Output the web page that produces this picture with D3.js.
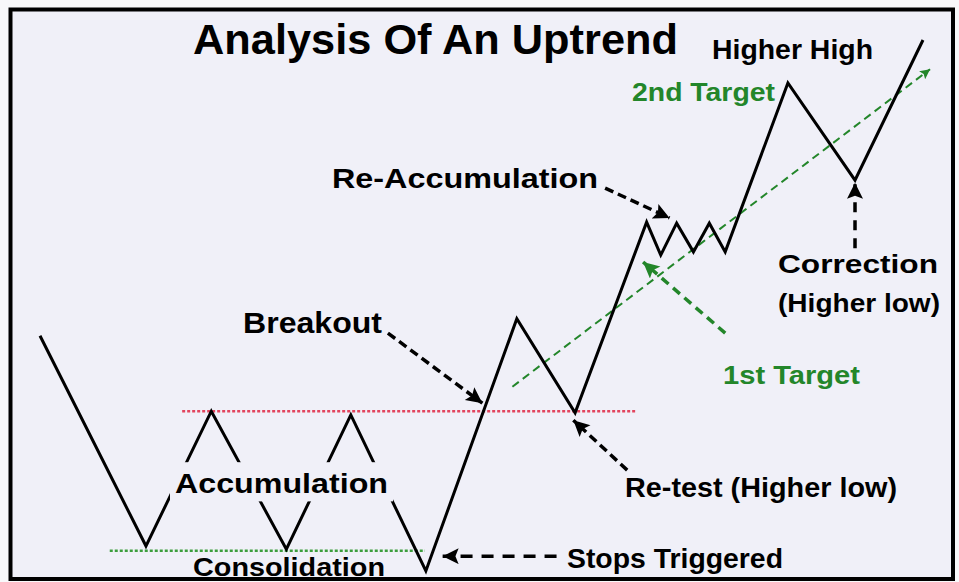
<!DOCTYPE html>
<html>
<head>
<meta charset="utf-8">
<script src="https://cdn.jsdelivr.net/npm/d3@7"></script>
<style>
  body { margin: 0; background: #f8f8fa; }
  text { font-family: "Liberation Sans", Arial, sans-serif; font-weight: bold; }
</style>
</head>
<body>
<script>
// price path of the uptrend (t = time 0..100, p = price 0..100)
var pathT = [0, 12.0, 19.4, 27.9, 35.2, 43.7, 54.0, 60.6, 68.7, 70.3, 72.1, 74.0, 75.8, 77.6, 84.7, 92.3, 100];
var pathP = [44.3, 4.7, 30.1, 4.1, 29.4, 0, 47.5, 29.8, 65.7, 59.5, 65.5, 60.1, 65.5, 60.1, 91.9, 73.6, 100];

// horizontal levels
var resistance = { p: 30.1, t0: 16.1, t1: 67.4 };
var support = { p: 3.8, t0: 7.9, t1: 43.6 };

// trend target line
var trendFrom = [53.5, 34.7];
var trendTo = [100.8, 94.5];

// annotation arrows: [tFrom, pFrom, tTo, pTo]
var arrowNames = ["Breakout", "Re-Accumulation", "1st Target", "Re-test (Higher low)", "Stops Triggered", "Correction"];
var arrowFrom = [[39.4, 44.8], [64.0, 72.1], [77.6, 44.8], [66.5, 19.0], [58.5, 2.8], [92.3, 60.8]];
var arrowTo = [[50.1, 31.6], [71.3, 66.5], [68.3, 58.2], [60.4, 28.4], [45.6, 2.8], [92.3, 73.1]];

var w = 959, h = 582;
var bg = "#f0f0f8";
var green = "#23862a";

var svg = d3.select("body").append("svg")
  .attr("width", w)
  .attr("height", h);

var x = d3.scaleLinear().domain([0, 100]).range([40, 923]);
var y = d3.scaleLinear().domain([0, 100]).range([571, 40]);

// panel
svg.append("rect")
  .attr("x", 10.5).attr("y", 9.5)
  .attr("width", 942.5).attr("height", 569.5)
  .attr("fill", bg)
  .attr("stroke", "#000")
  .attr("stroke-width", 4);

var defs = svg.append("defs");
function head(id, color, mw, mh) {
  defs.append("marker")
    .attr("id", id)
    .attr("viewBox", "0 0 10 10")
    .attr("refX", 10).attr("refY", 5)
    .attr("markerWidth", mw).attr("markerHeight", mh)
    .attr("markerUnits", "userSpaceOnUse")
    .attr("orient", "auto")
    .append("path")
    .attr("d", "M0,0 L10,5 L0,10 L2,5 Z")
    .attr("fill", color);
}
head("hBlack", "#000", 18, 16);
head("hGreen", green, 18, 16);
head("hGreenSmall", green, 12, 10);

// levels
svg.append("line")
  .attr("x1", x(resistance.t0)).attr("x2", x(resistance.t1))
  .attr("y1", y(resistance.p)).attr("y2", y(resistance.p))
  .attr("stroke", "#e2455e").attr("stroke-width", 2.5)
  .attr("stroke-dasharray", "3,2");

svg.append("line")
  .attr("x1", x(support.t0)).attr("x2", x(support.t1))
  .attr("y1", y(support.p)).attr("y2", y(support.p))
  .attr("stroke", "#3d9e3d").attr("stroke-width", 2.5)
  .attr("stroke-dasharray", "3,2");

// trend line
svg.append("line")
  .attr("x1", x(trendFrom[0])).attr("y1", y(trendFrom[1]))
  .attr("x2", x(trendTo[0])).attr("y2", y(trendTo[1]))
  .attr("stroke", green).attr("stroke-width", 2)
  .attr("stroke-dasharray", "8,5")
  .attr("marker-end", "url(#hGreenSmall)");

// price
var pts = pathT.map(function(t, i) { return [t, pathP[i]]; });
var line = d3.line()
  .x(function(d) { return x(d[0]); })
  .y(function(d) { return y(d[1]); });

svg.append("path")
  .attr("d", line(pts))
  .attr("fill", "none")
  .attr("stroke", "#000")
  .attr("stroke-width", 3)
  .attr("stroke-linejoin", "miter");

// arrows
var dashes = ["9,5", "9,5", "9,6", "9,5", "12,9", "10,8"];
arrowNames.forEach(function(n, i) {
  var g = n == "1st Target";
  svg.append("line")
    .attr("x1", x(arrowFrom[i][0])).attr("y1", y(arrowFrom[i][1]))
    .attr("x2", x(arrowTo[i][0])).attr("y2", y(arrowTo[i][1]))
    .attr("stroke", g ? green : "#000")
    .attr("stroke-width", 3.5)
    .attr("stroke-dasharray", dashes[i])
    .attr("marker-end", g ? "url(#hGreen)" : "url(#hBlack)");
});

// labels
var labels = [
  { t: "Analysis Of An Uptrend", x: 193, y: 54, s: 43, len: 485 },
  { t: "Higher High", x: 712, y: 59, s: 27, len: 161 },
  { t: "2nd Target", x: 632, y: 101, s: 26, len: 143, c: green },
  { t: "Re-Accumulation", x: 332, y: 188, s: 28, len: 266 },
  { t: "Correction", x: 778, y: 273, s: 26, len: 160 },
  { t: "(Higher low)", x: 778, y: 312, s: 26, len: 162 },
  { t: "Breakout", x: 243, y: 333, s: 29, len: 139 },
  { t: "1st Target", x: 723, y: 384, s: 26, len: 137, c: green },
  { t: "Accumulation", x: 175, y: 493, s: 28, len: 213, box: true },
  { t: "Re-test (Higher low)", x: 625, y: 497, s: 27, len: 272 },
  { t: "Consolidation", x: 193, y: 576, s: 26, len: 192 },
  { t: "Stops Triggered", x: 567, y: 568, s: 27, len: 216 }
];

labels.forEach(function(d) {
  if (d.box) {
    svg.append("rect")
      .attr("x", d.x - 5).attr("y", d.y - d.s * 1.1)
      .attr("width", d.len + 10).attr("height", d.s * 1.4)
      .attr("fill", bg);
  }
  svg.append("text")
    .attr("x", d.x).attr("y", d.y)
    .attr("font-size", d.s)
    .attr("textLength", d.len)
    .attr("lengthAdjust", "spacingAndGlyphs")
    .attr("fill", d.c || "#000")
    .text(d.t);
});
</script>
</body>
</html>
